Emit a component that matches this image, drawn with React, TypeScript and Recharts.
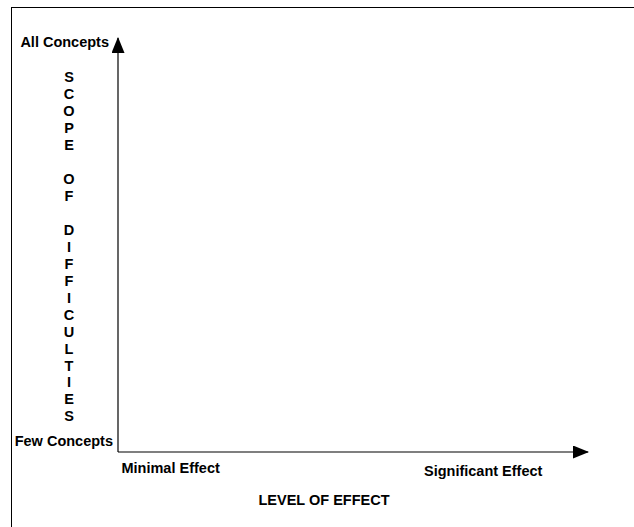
import { ScatterChart, Scatter, XAxis, YAxis, Label } from "recharts";

const xDomain = [0, 100];
const yDomain = [0, 100];
const xTickValues = [11.2, 77.7];
const xTickLabels = ["Minimal Effect", "Significant Effect"];
const yTickValues = [2.7, 99];
const yTickLabels = ["Few Concepts", "All Concepts"];
const xTitle = "LEVEL OF EFFECT";
const yTitle = "SCOPE OF DIFFICULTIES";

const FONT = "'Liberation Sans', Arial, sans-serif";
const FONT_SIZE = 14.5;

// the diagram has no marks; the two domain corners only anchor the axes
const anchorPoints = [
  { x: xDomain[0], y: yDomain[0] },
  { x: xDomain[1], y: yDomain[1] },
];

function renderXTick(props: any) {
  const { x, y, index } = props;
  return (
    <text
      key={`xt-${index}`}
      x={x}
      y={y + (index === 0 ? 21 : 24)}
      textAnchor="middle"
      fontFamily={FONT}
      fontWeight="bold"
      fontSize={FONT_SIZE}
      fill="#000"
    >
      {xTickLabels[index]}
    </text>
  );
}

function renderYTick(props: any) {
  const { x, y, index } = props;
  return (
    <text
      key={`yt-${index}`}
      x={x - (index === 1 ? 4 : 0)}
      y={y}
      dy="0.35em"
      textAnchor="end"
      fontFamily={FONT}
      fontWeight="bold"
      fontSize={FONT_SIZE}
      fill="#000"
    >
      {yTickLabels[index]}
    </text>
  );
}

function XTitle(props: any) {
  const vb = props.viewBox;
  return (
    <text
      x={vb.x + 206}
      y={vb.y + 53}
      textAnchor="middle"
      fontFamily={FONT}
      fontWeight="bold"
      fontSize={FONT_SIZE}
      fill="#000"
    >
      {xTitle}
    </text>
  );
}

function YTitle(props: any) {
  const vb = props.viewBox;
  // one letter per line, spaces leave a blank line
  return (
    <g>
      {yTitle.split("").map((ch, i) =>
        ch === " " ? null : (
          <text
            key={`l-${i}`}
            x={vb.x + 69}
            y={vb.y + 39.3 + i * 16.95}
            dy="0.35em"
            textAnchor="middle"
            fontFamily={FONT}
            fontWeight="bold"
            fontSize={FONT_SIZE}
            fill="#000"
          >
            {ch}
          </text>
        )
      )}
    </g>
  );
}

export default function App() {
  return (
    <div
      style={{
        position: "fixed",
        left: 0,
        top: 0,
        width: 634,
        height: 527,
        overflow: "hidden",
        background: "#fff",
      }}
    >
      <svg width={0} height={0} style={{ position: "absolute" }}>
        <defs>
          <marker
            id="arrow"
            markerUnits="userSpaceOnUse"
            markerWidth={16}
            markerHeight={13}
            viewBox="0 0 16 13"
            refX={15}
            refY={6.5}
            orient="auto-start-reverse"
          >
            <path d="M0,0 L16,6.5 L0,13 Z" fill="#000" />
          </marker>
        </defs>
      </svg>
      <div
        style={{
          position: "absolute",
          left: 11,
          top: 7,
          width: 700,
          height: 600,
          borderLeft: "1px solid #000",
          borderTop: "1px solid #000",
        }}
      />
      <div style={{ position: "absolute", left: 0, top: 0 }}>
        <ScatterChart
          width={634}
          height={527}
          margin={{ top: 38, right: 46, left: 0, bottom: 0 }}
        >
          <XAxis
            type="number"
            dataKey="x"
            domain={xDomain}
            ticks={xTickValues}
            interval={0}
            height={75}
            tickLine={false}
            tickSize={0}
            tickMargin={0}
            tick={renderXTick}
            axisLine={{ stroke: "#000", strokeWidth: 1.2, markerEnd: "url(#arrow)" }}
          >
            <Label content={<XTitle />} />
          </XAxis>
          <YAxis
            type="number"
            dataKey="y"
            domain={yDomain}
            ticks={yTickValues}
            interval={0}
            width={118}
            tickLine={false}
            tickSize={0}
            tickMargin={5}
            tick={renderYTick}
            axisLine={{ stroke: "#000", strokeWidth: 1.2, markerStart: "url(#arrow)" }}
          >
            <Label content={<YTitle />} />
          </YAxis>
          <Scatter
            data={anchorPoints}
            isAnimationActive={false}
            shape={() => <g />}
          />
        </ScatterChart>
      </div>
    </div>
  );
}
